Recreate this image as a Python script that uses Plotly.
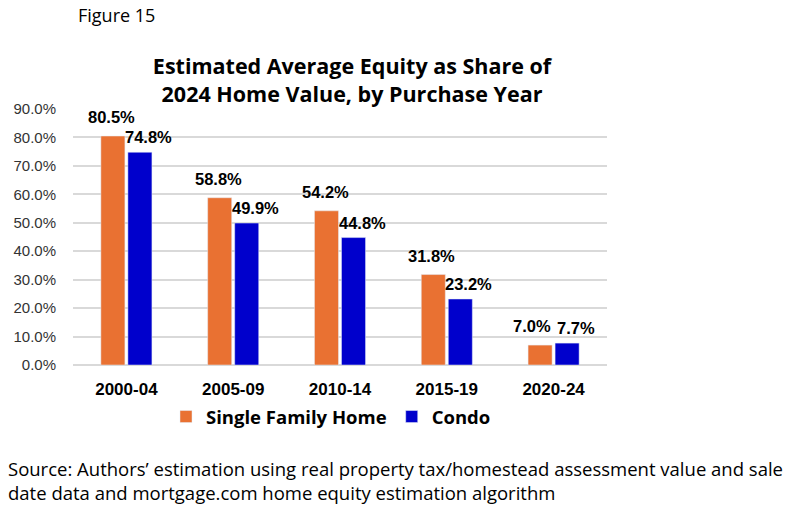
import plotly.graph_objects as go

categories = ["2000-04", "2005-09", "2010-14", "2015-19", "2020-24"]
single_family = [80.5, 58.8, 54.2, 31.8, 7.0]
condo = [74.8, 49.9, 44.8, 23.2, 7.7]
tick_vals = [0, 10, 20, 30, 40, 50, 60, 70, 80, 90]
tick_text = [f"{v:.1f}%" for v in tick_vals]

ORANGE = "#E97132"
BLUE = "#0000CC"
LABEL_FONT = dict(family="Liberation Sans, Arial, sans-serif", size=16.5, color="#000000")

W, H = 788, 506
L, R, T, B = 73, 181, 109, 141
PW, PH = W - L - R, H - T - B


def px(x):
    return (x - L) / PW


def py(y):
    return (H - B - y) / PH


fig = go.Figure()
fig.add_bar(x=categories, y=single_family, name="<b>Single Family Home</b>",
            marker_color=ORANGE, hoverinfo="skip")
fig.add_bar(x=categories, y=condo, name="<b>Condo</b>",
            marker_color=BLUE, hoverinfo="skip")

# value labels placed from the data through the axes
for c, v in zip(categories, single_family):
    fig.add_annotation(x=c, y=v, xref="x", yref="y", text=f"<b>{v:.1f}%</b>",
                       showarrow=False, xshift=-15 - (7 if v < 10 else 0), yshift=19,
                       font=LABEL_FONT)
for c, v in zip(categories, condo):
    fig.add_annotation(x=c, y=v, xref="x", yref="y", text=f"<b>{v:.1f}%</b>",
                       showarrow=False, xshift=22, yshift=15,
                       font=LABEL_FONT)

fig.add_annotation(x=px(76), y=py(15), xref="paper", yref="paper", text="Figure 15",
                   showarrow=False, xanchor="left", yanchor="middle",
                   font=dict(family="Open Sans, sans-serif", size=18, color="#000"))

fig.add_annotation(x=px(6), y=py(480), xref="paper", yref="paper",
                   text="Source: Authors’ estimation using real property tax/homestead assessment value and sale<br>date data and mortgage.com home equity estimation algorithm",
                   showarrow=False, xanchor="left", yanchor="middle", align="left",
                   font=dict(family="Open Sans, sans-serif", size=18.5, color="#000"))

fig.update_layout(
    width=W, height=H,
    margin=dict(l=L, r=R, t=T, b=B, autoexpand=False),
    paper_bgcolor="white", plot_bgcolor="white",
    barmode="group", bargap=0.494, bargroupgap=0.11,
    title=dict(text="<b>Estimated Average Equity as Share of<br>2024 Home Value, by Purchase Year</b>",
               x=352 / W, xanchor="center", y=1 - 74 / H, yanchor="middle",
               font=dict(family="Open Sans, sans-serif", size=21.5, color="#000")),
    showlegend=True,
    legend=dict(orientation="h", x=166 / W, xref="container",
                y=1 - 417 / H, yref="container", yanchor="middle", xanchor="left",
                font=dict(family="Open Sans, sans-serif", size=18.5, color="#000"),
                traceorder="normal"),
    xaxis=dict(type="category",
               tickfont=dict(family="Liberation Sans, Arial, sans-serif", size=17, color="#000"),
               showline=False, ticks="", showgrid=False,
               tickprefix="<b>", ticksuffix="</b>", ticklabelstandoff=12),
    yaxis=dict(range=[0, 90], tickvals=tick_vals, ticktext=tick_text,
               tickfont=dict(family="Liberation Sans, Arial, sans-serif", size=15, color="#333"),
               showgrid=True, gridcolor="#D9D9D9", gridwidth=2,
               zeroline=True, zerolinecolor="#D9D9D9", zerolinewidth=2,
               showline=False, ticks="", ticklabelstandoff=16),
)

fig.write_html("out.html", config={"displayModeBar": False},
               post_script="document.body.style.margin='0';")
